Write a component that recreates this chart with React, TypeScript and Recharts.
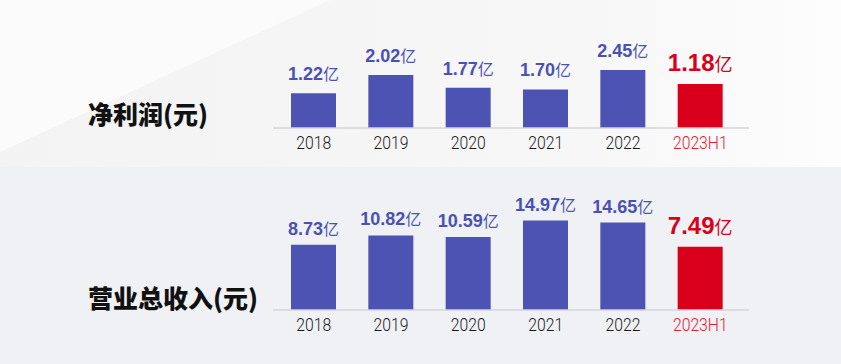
import React from "react";
import { BarChart, Bar, XAxis, YAxis, Cell, LabelList } from "recharts";

const years = ["2018", "2019", "2020", "2021", "2022", "2023H1"];
// 标签上的数值（亿元）
const profitValues = [1.22, 2.02, 1.77, 1.7, 2.45, 1.18];
const revenueValues = [8.73, 10.82, 10.59, 14.97, 14.65, 7.49];
// 图中柱子实际画出的长度（按 2022 / 2021 柱子换算成亿元）
const profitBarLen = [1.47, 2.24, 1.7, 1.63, 2.45, 1.86];
const revenueBarLen = [10.94, 12.49, 12.22, 14.97, 14.64, 10.61];

const HIGHLIGHT = "2023H1";
const BLUE = "#4c53b3";
const RED = "#d9001b";

const profitData = years.map((year, i) => ({ year, bar: profitBarLen[i], value: profitValues[i] }));
const revenueData = years.map((year, i) => ({ year, bar: revenueBarLen[i], value: revenueValues[i] }));

const makeLabel = (gap: number) => (props: any) => {
  const { x, y, width, value, index } = props;
  const hot = years[index] === HIGHLIGHT;
  return (
    <text
      x={x + width / 2}
      y={y - (hot ? 13 : gap)}
      textAnchor="middle"
      fill={hot ? RED : "#4a51b2"}
    >
      <tspan fontFamily="'Liberation Sans', Arial, sans-serif" fontWeight={700} fontSize={hot ? 24 : 18}>
        {value.toFixed(2)}
      </tspan>
      <tspan fontFamily="'Noto Sans CJK SC', sans-serif" fontSize={hot ? 18 : 16}>
        亿
      </tspan>
    </text>
  );
};

// 年份用偏窄的字形，横向压一点
const YearTick = (props: any) => {
  const { x, y, payload } = props;
  const hot = payload.value === HIGHLIGHT;
  return (
    <text
      transform={`translate(${x},${y}) scale(0.83,1)`}
      x={0}
      y={0}
      dy={13}
      textAnchor="middle"
      fontFamily="Roboto, sans-serif"
      fontWeight={300}
      fontSize={19}
      fill={hot ? "#e0202e" : "#1a1a1a"}
    >
      {payload.value}
    </text>
  );
};

function Panel({ data, max, top, gap }: { data: any[]; max: number; top: number; gap: number }) {
  return (
    <BarChart
      width={841}
      height={182}
      data={data}
      margin={{ top, right: 92, left: 273, bottom: 24 }}
      barSize={45}
    >
      <XAxis
        dataKey="year"
        height={30}
        axisLine={{ stroke: "#d4d4d8", strokeWidth: 1.5 }}
        tickLine={false}
        padding={{ left: 2, right: 10 }}
        tick={<YearTick />}
        interval={0}
      />
      <YAxis hide domain={[0, max]} />
      <Bar dataKey="bar" isAnimationActive={false}>
        {data.map((d) => (
          <Cell key={d.year} fill={d.year === HIGHLIGHT ? RED : BLUE} />
        ))}
        <LabelList dataKey="value" content={makeLabel(gap)} />
      </Bar>
    </BarChart>
  );
}

const titleStyle: React.CSSProperties = {
  position: "absolute",
  left: 88,
  fontFamily: "'Noto Sans CJK SC', sans-serif",
  fontWeight: 900,
  fontSize: 25,
  color: "#111",
  lineHeight: "30px",
  whiteSpace: "nowrap",
};

export default function App() {
  return (
    <div style={{ position: "absolute", left: 0, top: 0, width: 841, height: 364, overflow: "hidden" }}>
      <svg width={841} height={364} style={{ position: "absolute", left: 0, top: 0 }}>
        <defs>
          <linearGradient id="topBg" x1="0" y1="0" x2="1" y2="0">
            <stop offset="0%" stopColor="#f3f3f4" />
            <stop offset="70%" stopColor="#f7f7f8" />
            <stop offset="100%" stopColor="#fdfdfd" />
          </linearGradient>
        </defs>
        <rect x={0} y={0} width={841} height={167} fill="url(#topBg)" />
        <polygon points="0,0 330,0 0,152" fill="#fbfbfb" />
        <rect x={0} y={167} width={841} height={197} fill="#eff1f5" />
      </svg>
      <div style={{ position: "absolute", left: 0, top: 0 }}>
        <Panel data={profitData} max={3} top={57} gap={13} />
      </div>
      <div style={{ position: "absolute", left: 0, top: 182 }}>
        <Panel data={revenueData} max={18} top={20.5} gap={10} />
      </div>
      <div style={{ ...titleStyle, top: 98 }}>净利润(元)</div>
      <div style={{ ...titleStyle, top: 282 }}>营业总收入(元)</div>
    </div>
  );
}
